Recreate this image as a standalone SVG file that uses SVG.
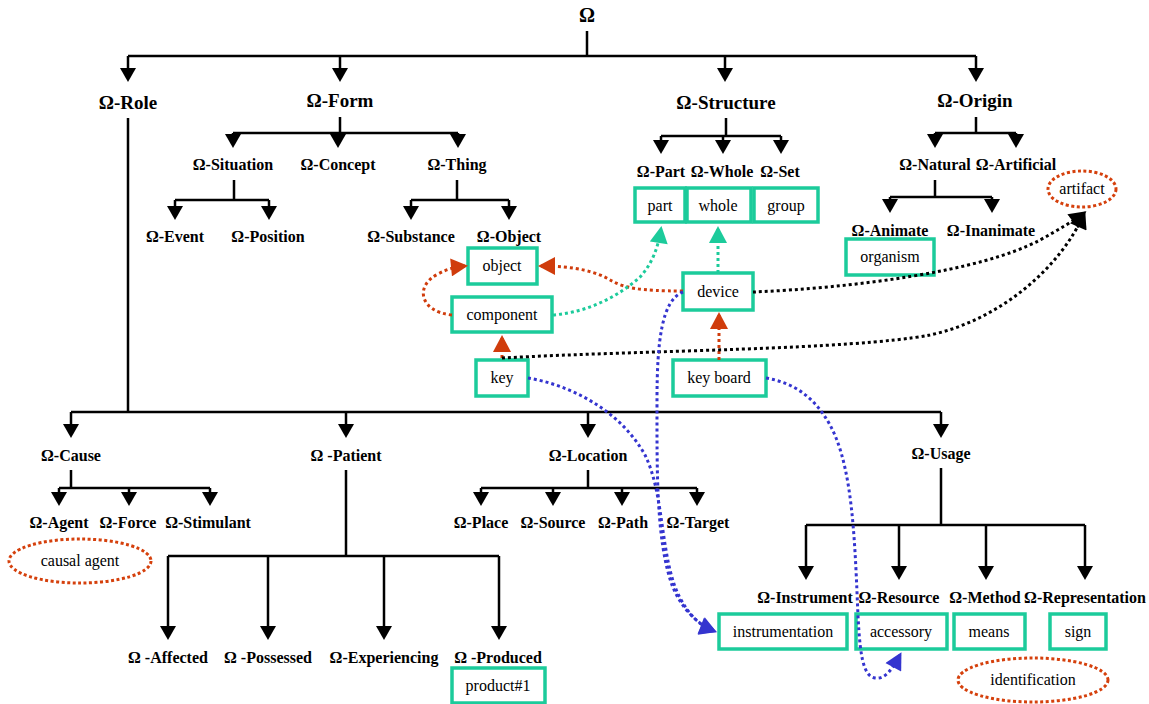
<svg xmlns="http://www.w3.org/2000/svg" width="1149" height="704" viewBox="0 0 1149 704">
<style>
  text { font-family: 'Liberation Serif', 'Tinos', 'Times New Roman', 'DejaVu Serif', serif; }
  .lbl { font-weight: bold; font-size: 16px; text-anchor: middle; fill: #000; }
  .big { font-size: 19px; }
  .txt { font-size: 16px; text-anchor: middle; fill: #000; }
  .box { fill: #fff; stroke: #1ccb9b; stroke-width: 3.5; }
  .ell { fill: #fff; stroke: #d5400c; stroke-width: 3; stroke-dasharray: 3 2.5; }
  .tree { fill: none; stroke: #000; stroke-width: 2.5; }
  .drop { fill: none; stroke: #000; stroke-width: 2.5; marker-end: url(#ah); }
  .dot { fill: none; stroke-width: 3; stroke-dasharray: 3 3; }
  .red { stroke: #d03c0c; marker-end: url(#ahRed); }
  .teal { stroke: #1ccb9b; marker-end: url(#ahTeal); }
  .blk { stroke: #000; marker-end: url(#ahBlk); }
  .blue { stroke: #3434cf; marker-end: url(#ahBlue); }
</style>
<defs>
  <marker id="ah" markerUnits="userSpaceOnUse" markerWidth="15" markerHeight="16" viewBox="0 0 14 16" refX="0" refY="8" orient="auto"><path d="M0,0 L14,8 L0,16 z" fill="#000"/></marker>
  <marker id="ahRed" markerUnits="userSpaceOnUse" markerWidth="18" markerHeight="18" viewBox="0 0 17 18" refX="14" refY="9" orient="auto"><path d="M0,0 L17,9 L0,18 z" fill="#d03c0c"/></marker>
  <marker id="ahTeal" markerUnits="userSpaceOnUse" markerWidth="18" markerHeight="18" viewBox="0 0 17 18" refX="14" refY="9" orient="auto"><path d="M0,0 L17,9 L0,18 z" fill="#1ccb9b"/></marker>
  <marker id="ahBlk" markerUnits="userSpaceOnUse" markerWidth="18" markerHeight="18" viewBox="0 0 17 18" refX="14" refY="9" orient="auto"><path d="M0,0 L17,9 L0,18 z" fill="#000"/></marker>
  <marker id="ahBlue" markerUnits="userSpaceOnUse" markerWidth="18" markerHeight="18" viewBox="0 0 17 18" refX="14" refY="9" orient="auto"><path d="M0,0 L17,9 L0,18 z" fill="#3434cf"/></marker>
</defs>
<rect width="1149" height="704" fill="#fff"/>

<!-- tree connectors -->
<g id="tree-connectors">
  <path class="tree" d="M587,31 V56 M128,56 H976"/>
  <path class="drop" d="M128,56 V68"/><path class="drop" d="M340,56 V68"/><path class="drop" d="M725,56 V68"/><path class="drop" d="M976,56 V68"/>
  <path class="tree" d="M340,117 V133 M233,133 H458"/>
  <path class="drop" d="M233,133 V134"/><path class="drop" d="M338,133 V134"/><path class="drop" d="M458,133 V134"/>
  <path class="tree" d="M234,180 V200 M175,200 H269"/>
  <path class="drop" d="M175,200 V206"/><path class="drop" d="M269,200 V206"/>
  <path class="tree" d="M457,180 V200 M411,200 H509"/>
  <path class="drop" d="M411,200 V206"/><path class="drop" d="M509,200 V206"/>
  <path class="tree" d="M726,118 V136 M661,136 H781"/>
  <path class="drop" d="M661,136 V140"/><path class="drop" d="M723,136 V140"/><path class="drop" d="M781,136 V140"/>
  <path class="tree" d="M976,117 V133 M935,133 H1016"/>
  <path class="drop" d="M935,133 V134"/><path class="drop" d="M1016,133 V134"/>
  <path class="tree" d="M935,180 V197 M890,197 H992"/>
  <path class="drop" d="M890,197 V199"/><path class="drop" d="M992,197 V199"/>
  <path class="tree" d="M128,118 V412 M71,412 H941"/>
  <path class="drop" d="M71,412 V424"/><path class="drop" d="M346,412 V424"/><path class="drop" d="M588,412 V424"/><path class="drop" d="M941,412 V424"/>
  <path class="tree" d="M71,470 V488 M59,488 H210"/>
  <path class="drop" d="M59,488 V492"/><path class="drop" d="M129,488 V492"/><path class="drop" d="M210,488 V492"/>
  <path class="tree" d="M346,470 V556 M168,556 H499"/>
  <path class="drop" d="M168,556 V626"/><path class="drop" d="M268,556 V626"/><path class="drop" d="M384,556 V626"/><path class="drop" d="M499,556 V626"/>
  <path class="tree" d="M588,470 V488 M481,488 H697"/>
  <path class="drop" d="M481,488 V492"/><path class="drop" d="M553,488 V492"/><path class="drop" d="M622,488 V492"/><path class="drop" d="M697,488 V492"/>
  <path class="tree" d="M941,468 V525 M806,525 H1085"/>
  <path class="drop" d="M806,525 V566"/><path class="drop" d="M899,525 V566"/><path class="drop" d="M986,525 V566"/><path class="drop" d="M1085,525 V566"/>
</g>

<!-- labels -->
<g id="n-omega"><text class="lbl" x="587" y="22" style="font-size:20px">Ω</text></g>
<g id="n-role"><text class="lbl big" x="128" y="109">Ω-Role</text></g>
<g id="n-form"><text class="lbl big" x="340" y="107">Ω-Form</text></g>
<g id="n-structure"><text class="lbl big" x="726" y="109">Ω-Structure</text></g>
<g id="n-origin"><text class="lbl big" x="975" y="107">Ω-Origin</text></g>
<g id="n-situation"><text class="lbl" x="233" y="170">Ω-Situation</text></g>
<g id="n-concept"><text class="lbl" x="338" y="170">Ω-Concept</text></g>
<g id="n-thing"><text class="lbl" x="457" y="170">Ω-Thing</text></g>
<g id="n-event"><text class="lbl" x="175" y="242">Ω-Event</text></g>
<g id="n-position"><text class="lbl" x="268" y="242">Ω-Position</text></g>
<g id="n-substance"><text class="lbl" x="411" y="242">Ω-Substance</text></g>
<g id="n-objectlbl"><text class="lbl" x="509" y="242">Ω-Object</text></g>
<g id="n-partlbl"><text class="lbl" x="661" y="177">Ω-Part</text></g>
<g id="n-wholelbl"><text class="lbl" x="722" y="177">Ω-Whole</text></g>
<g id="n-setlbl"><text class="lbl" x="780" y="177">Ω-Set</text></g>
<g id="n-natural"><text class="lbl" x="935" y="170">Ω-Natural</text></g>
<g id="n-artificial"><text class="lbl" x="1016" y="170">Ω-Artificial</text></g>
<g id="n-animate"><text class="lbl" x="890" y="236">Ω-Animate</text></g>
<g id="n-inanimate"><text class="lbl" x="991" y="236">Ω-Inanimate</text></g>
<g id="n-cause"><text class="lbl" x="71" y="461">Ω-Cause</text></g>
<g id="n-patient"><text class="lbl" x="346" y="461">Ω -Patient</text></g>
<g id="n-location"><text class="lbl" x="588" y="461">Ω-Location</text></g>
<g id="n-usage"><text class="lbl" x="941" y="459">Ω-Usage</text></g>
<g id="n-agent"><text class="lbl" x="59" y="528">Ω-Agent</text></g>
<g id="n-force"><text class="lbl" x="128" y="528">Ω-Force</text></g>
<g id="n-stimulant"><text class="lbl" x="208" y="528">Ω-Stimulant</text></g>
<g id="n-place"><text class="lbl" x="481" y="528">Ω-Place</text></g>
<g id="n-source"><text class="lbl" x="553" y="528">Ω-Source</text></g>
<g id="n-path"><text class="lbl" x="623" y="528">Ω-Path</text></g>
<g id="n-target"><text class="lbl" x="698" y="528">Ω-Target</text></g>
<g id="n-affected"><text class="lbl" x="168" y="663">Ω -Affected</text></g>
<g id="n-possessed"><text class="lbl" x="268" y="663">Ω -Possessed</text></g>
<g id="n-experiencing"><text class="lbl" x="384" y="663">Ω-Experiencing</text></g>
<g id="n-produced"><text class="lbl" x="498" y="663">Ω -Produced</text></g>
<g id="n-instrument"><text class="lbl" x="805" y="603">Ω-Instrument</text></g>
<g id="n-resource"><text class="lbl" x="899" y="603">Ω-Resource</text></g>
<g id="n-method"><text class="lbl" x="985" y="603">Ω-Method</text></g>
<g id="n-representation"><text class="lbl" x="1085" y="603">Ω-Representation</text></g>

<!-- boxes -->
<g id="b-part"><rect class="box" x="635" y="188" width="50" height="34"/><text class="txt" x="660" y="211">part</text></g>
<g id="b-whole"><rect class="box" x="687" y="188" width="64" height="34"/><text class="txt" x="718" y="211">whole</text></g>
<g id="b-group"><rect class="box" x="754" y="188" width="64" height="34"/><text class="txt" x="786" y="211">group</text></g>
<g id="b-organism"><rect class="box" x="846" y="239" width="88" height="36"/><text class="txt" x="890" y="262">organism</text></g>
<g id="b-object"><rect class="box" x="468" y="248" width="69" height="36"/><text class="txt" x="502" y="271">object</text></g>
<g id="b-component"><rect class="box" x="452" y="297" width="100" height="35"/><text class="txt" x="502" y="320">component</text></g>
<g id="b-device"><rect class="box" x="683" y="273" width="70" height="37"/><text class="txt" x="718" y="297">device</text></g>
<g id="b-key"><rect class="box" x="476" y="360" width="52" height="36"/><text class="txt" x="502" y="383">key</text></g>
<g id="b-keyboard"><rect class="box" x="673" y="360" width="93" height="36"/><text class="txt" x="719" y="383">key board</text></g>
<g id="b-product"><rect class="box" x="452" y="668" width="93" height="35"/><text class="txt" x="498" y="691">product#1</text></g>
<g id="b-instrumentation"><rect class="box" x="719" y="614" width="128" height="35"/><text class="txt" x="783" y="637">instrumentation</text></g>
<g id="b-accessory"><rect class="box" x="856" y="614" width="91" height="35"/><text class="txt" x="901" y="637">accessory</text></g>
<g id="b-means"><rect class="box" x="954" y="614" width="71" height="35"/><text class="txt" x="989" y="637">means</text></g>
<g id="b-sign"><rect class="box" x="1050" y="614" width="56" height="35"/><text class="txt" x="1078" y="637">sign</text></g>

<!-- ellipses -->
<g id="e-artifact"><ellipse class="ell" cx="1082" cy="189" rx="34" ry="18"/><text class="txt" x="1082" y="194">artifact</text></g>
<g id="e-causal"><ellipse class="ell" cx="80" cy="561" rx="71" ry="22"/><text class="txt" x="80" y="566">causal agent</text></g>
<g id="e-identification"><ellipse class="ell" cx="1033" cy="680" rx="75" ry="22"/><text class="txt" x="1033" y="685">identification</text></g>

<!-- relation connectors -->
<g id="relations">
  <path class="dot red" d="M683,291 C640,291 625,288 612,281 C598,272 575,266 541,266"/>
  <path class="dot red" d="M452,315 C420,312 414,286 438,274 C447,269 455,267 465,266"/>
  <path class="dot red" d="M502,358 V338"/>
  <path class="dot red" d="M719,360 V315"/>
  <path class="dot teal" d="M718,273 V229"/>
  <path class="dot teal" d="M553,315 C590,312 620,295 640,277 C652,264 658,248 661,229"/>
  <path class="dot blk" d="M753,292 C850,288 980,272 1040,240 C1058,230 1072,222 1084,213"/>
  <path class="dot blk" d="M502,358 C650,350 850,350 930,335 C1000,320 1060,268 1084,214"/>
  <path class="dot blue" d="M528,378 C570,385 620,410 645,455 C665,495 660,560 680,598 C690,616 700,626 714,631"/>
  <path class="dot blue" d="M683,292 C662,300 657,340 657,400 C657,470 656,540 672,585 C682,610 698,624 714,631"/>
  <path class="dot blue" d="M766,378 C795,383 815,398 830,425 C848,458 853,510 856,570 C859,630 858,676 875,678 C886,680 894,666 900,655"/>
</g>
</svg>
